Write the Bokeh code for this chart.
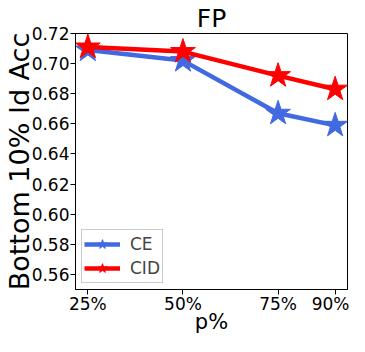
from bokeh.plotting import figure
from bokeh.models import FixedTicker, Range1d, Legend, LegendItem
from bokeh.embed import file_html
from bokeh.resources import INLINE

p_values = [25, 50, 75, 90]
tick_labels = ["25%", "50%", "75%", "90%"]
ce = [0.709, 0.702, 0.667, 0.659]
cid = [0.711, 0.708, 0.692, 0.683]
y_ticks = [0.56, 0.58, 0.60, 0.62, 0.64, 0.66, 0.68, 0.70, 0.72]
x_min, x_max = 21.75, 93.25
y_min, y_max = 0.55, 0.72

FONT = "DejaVu Sans"

p = figure(width=349, height=336, output_backend="svg", toolbar_location=None,
           x_range=Range1d(x_min, x_max), y_range=Range1d(y_min, y_max),
           min_border_left=10, min_border_right=2, min_border_top=24, min_border_bottom=10)

p.title.text = "FP"
p.title.align = "center"
p.title.text_font = FONT
p.title.text_font_size = "25px"
p.title.text_font_style = "normal"
p.title.text_color = "black"
p.title.standoff = 2

p.xgrid.visible = False
p.ygrid.visible = False
p.outline_line_color = "black"
p.outline_line_width = 1

for ax in (p.xaxis[0], p.yaxis[0]):
    ax.major_label_text_font = FONT
    ax.major_label_text_font_size = "17px"
    ax.major_label_text_color = "black"
    ax.axis_label_text_font = FONT
    ax.axis_label_text_font_style = "normal"
    ax.axis_label_text_color = "black"
    ax.minor_tick_line_color = None
    ax.major_tick_in = 0
    ax.major_tick_out = 5
    ax.axis_line_color = "black"

p.xaxis.ticker = FixedTicker(ticks=p_values)
p.xaxis.major_label_overrides = {v: l for v, l in zip(p_values, tick_labels)}
p.xaxis.axis_label = "p%"
p.xaxis.axis_label_text_font_size = "21px"
p.xaxis.major_label_standoff = -1
p.xaxis.axis_label_standoff = -7

p.yaxis.ticker = FixedTicker(ticks=y_ticks)
p.yaxis.major_label_overrides = {v: f"{v:.2f}" for v in y_ticks}
p.yaxis.axis_label = "Bottom 10% Id Acc"
p.yaxis.axis_label_text_font_size = "27px"
p.yaxis.major_label_standoff = 1
p.yaxis.axis_label_standoff = -6

l1 = p.line(p_values, ce, line_color="royalblue", line_width=4.5)
s1 = p.scatter(p_values, ce, marker="star", size=26, fill_color="royalblue", line_color="royalblue")
l2 = p.line(p_values, cid, line_color="red", line_width=4.5)
s2 = p.scatter(p_values, cid, marker="star", size=26, fill_color="red", line_color="red")

legend = Legend(items=[LegendItem(label="CE", renderers=[l1, s1]),
                       LegendItem(label="CID", renderers=[l2, s2])],
                location="bottom_left")
legend.label_text_font = FONT
legend.label_text_font_size = "17px"
legend.border_line_color = "#cccccc"
legend.border_line_alpha = 1
legend.background_fill_alpha = 0.8
legend.glyph_width = 36
legend.glyph_height = 24
legend.spacing = 0
legend.padding = 2
legend.margin = 6
legend.label_standoff = 10
p.add_layout(legend)

open("out.html", "w").write(file_html(p, INLINE))
